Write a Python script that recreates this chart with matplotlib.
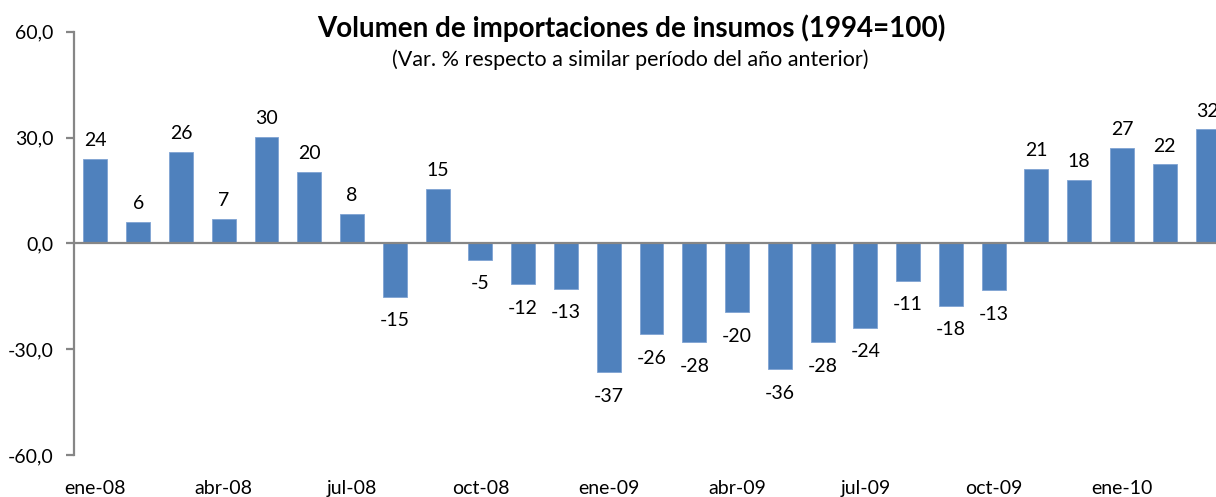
import matplotlib.pyplot as plt
import numpy as np

plt.rcParams["font.family"] = ["Lato", "DejaVu Sans"]

months = [
    "ene-08", "feb-08", "mar-08", "abr-08", "may-08", "jun-08", "jul-08", "ago-08", "sep-08",
    "oct-08", "nov-08", "dic-08", "ene-09", "feb-09", "mar-09", "abr-09", "may-09", "jun-09",
    "jul-09", "ago-09", "sep-09", "oct-09", "nov-09", "dic-09", "ene-10", "feb-10", "mar-10",
]
var_pct = [
    24.0, 6.0, 25.9, 6.9, 30.1, 20.2, 8.4, -15.2, 15.4,
    -4.7, -11.6, -12.8, -36.6, -25.8, -28.1, -19.6, -35.7, -28.1,
    -24.0, -10.6, -17.8, -13.3, 21.1, 18.0, 27.0, 22.4, 32.3,
]
yticks = [-60, -30, 0, 30, 60]

bar_color = "#4F81BD"
axis_gray = "#868686"

fig = plt.figure(figsize=(12.16, 4.97), dpi=100)
ax = fig.add_axes([74 / 1216, 1 - 455 / 497, 1 - 74 / 1216, (455 - 31.7) / 497])

x = np.arange(len(months))
ax.bar(x, var_pct, width=0.56, color=bar_color, edgecolor="#7FA3D3", linewidth=0.6, zorder=2)
ax.axhline(0, color=axis_gray, linewidth=1.6, zorder=3)

for xi, v in zip(x, var_pct):
    if v >= 0:
        ax.annotate(f"{v:.0f}", (xi, v), xytext=(0, 7), textcoords="offset points",
                    ha="center", va="bottom", fontsize=14)
    else:
        ax.annotate(f"{v:.0f}", (xi, v), xytext=(0, -11), textcoords="offset points",
                    ha="center", va="top", fontsize=14)

ax.set_xlim(-0.5, (1216 - 95.3) / 42.78)
ax.set_ylim(-60, 60)
ax.set_yticks(yticks)
ax.set_yticklabels([f"{t:.1f}".replace(".", ",") for t in yticks], fontsize=14)
ax.set_xticks(x[::3])
ax.set_xticklabels(months[::3], fontsize=14)
ax.tick_params(axis="x", length=0, pad=18)
ax.tick_params(axis="y", length=6, width=1.6, color=axis_gray, pad=9)

for side in ["top", "right", "bottom"]:
    ax.spines[side].set_visible(False)
ax.spines["left"].set_color(axis_gray)
ax.spines["left"].set_linewidth(1.6)

fig.text(631 / 1216, 1 - 28 / 497, "Volumen de importaciones de insumos (1994=100)",
         ha="center", va="center", fontsize=20, fontweight="bold")
fig.text(630 / 1216, 1 - 60 / 497, "(Var. % respecto a similar período del año anterior)",
         ha="center", va="center", fontsize=15.5)

fig.savefig("out.png", dpi=100)
